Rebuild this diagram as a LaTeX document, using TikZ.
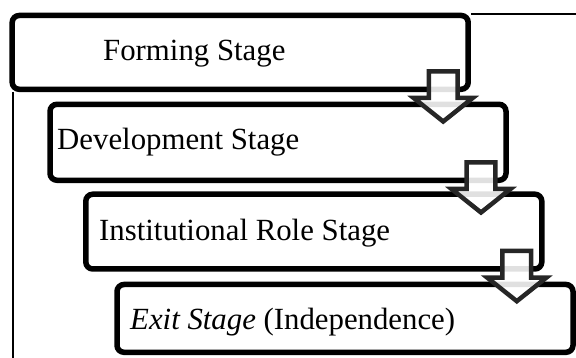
\documentclass[tikz,border=0pt]{standalone}
\usepackage{fontspec}
\setmainfont{Liberation Serif}
\usetikzlibrary{calc}

% block arrow from one stage box down to the next
\newcommand{\stagearrow}[1]{\draw[blockarrow] (#1.south east) ++(-39.4,18) -- ++(28.8,0) -- ++(0,-26.7)
	-- ++(15.1,0) -- ++(-29.5,-23.5) -- ++(-29.5,23.5) -- ++(15.1,0) -- cycle;}

\begin{document}
\begin{tikzpicture}[x=1pt, y=1pt,
		stagebox/.style={draw, fill=white, line width=5.5pt, rounded corners=7pt,
			minimum width=456pt, inner sep=0pt, outer sep=0pt},
		stagetext/.style={anchor=base west, inner sep=0pt, font=\fontsize{30.8}{36}\selectfont},
		blockarrow/.style={draw=black!85, line width=4.5pt, fill=white, fill opacity=0.88, draw opacity=1},
		frameline/.style={line width=2pt}]
		\useasboundingbox (0,0) rectangle (576,358);
		\draw[frameline] (471,343.8) -- (576,343.8);
		\draw[frameline] (12.5,266) -- (12.5,0);
		\node[stagebox, minimum height=73.8pt] (Form) at (240.2,305.6) {};
		\node[stagebox, minimum height=76pt] (Dev) at (278,215.7) {};
		\node[stagebox, minimum height=74.8pt] (Inst) at (313.8,126.4) {};
		\node[stagebox, minimum height=67.8pt] (Exit) at (345,39.6) {};
		\node[stagetext] (FormT) at (103,297.3) {Forming Stage};
		\node[stagetext] (DevT) at (57,208) {Development Stage};
		\node[stagetext] (InstT) at (99,117.3) {Institutional Role Stage};
		\node[stagetext] (ExitT) at (130,28.3) {\textit{Exit Stage} (Independence)};
		\stagearrow{Form}
		\stagearrow{Dev}
		\stagearrow{Inst}
\end{tikzpicture}
\end{document}
